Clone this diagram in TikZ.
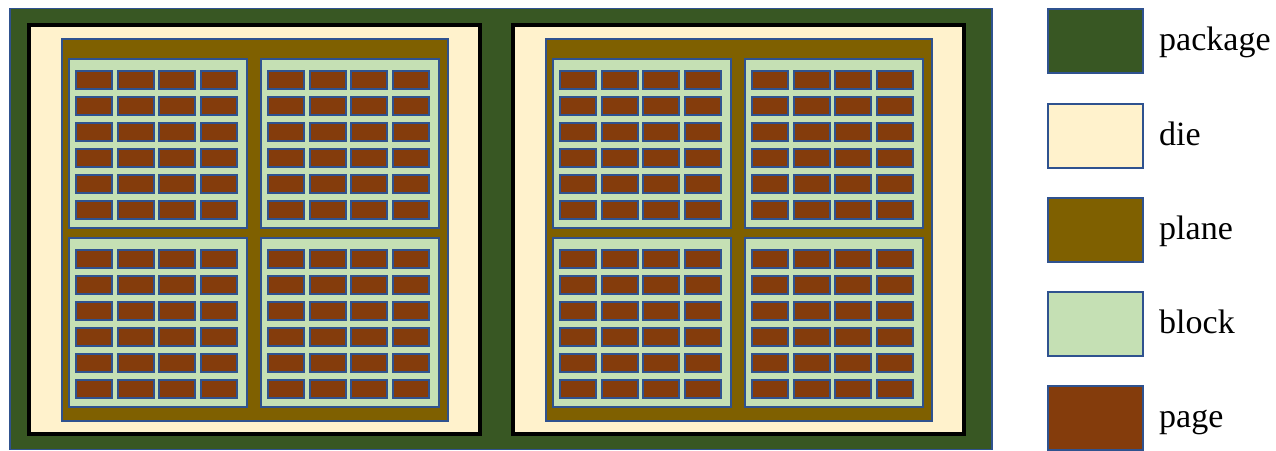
\documentclass[tikz,border=0pt]{standalone}
\usepackage{fontspec}
\setmainfont{Liberation Serif}
\usetikzlibrary{positioning}

\definecolor{edgeblue}{HTML}{2F528F}
\definecolor{pkggreen}{HTML}{385723}
\definecolor{diecream}{HTML}{FFF2CC}
\definecolor{planegold}{HTML}{7F6000}
\definecolor{blockgreen}{HTML}{C5E0B4}
\definecolor{pagebrown}{HTML}{843C0C}

\begin{document}
\begin{tikzpicture}[x=1pt,y=-1pt,
  box/.style  ={draw=edgeblue,line width=2pt,inner sep=0pt,outer sep=0pt},
  pkg/.style  ={box,fill=pkggreen,line width=1.5pt},
  die/.style  ={draw=black,line width=4pt,fill=diecream,inner sep=0pt,
                minimum width=451pt,minimum height=409pt},
  plane/.style={box,fill=planegold,minimum width=386pt,minimum height=382pt},
  blk/.style  ={box,fill=blockgreen,minimum width=178pt,minimum height=169pt},
  pg/.style   ={box,fill=pagebrown,minimum width=36pt,minimum height=18pt},
  key/.style  ={box,minimum width=95pt,minimum height=64pt},
  lbl/.style  ={font=\fontsize{34}{38}\selectfont,inner sep=0pt,
                text height=29pt,text depth=10pt}]
\useasboundingbox (0,0) rectangle (1276,450);

%---------------- package ----------------
\node[pkg,minimum width=982pt,minimum height=441pt] (pkg) at (501,229) {};

%---------------- dies, planes, blocks, pages ----------------
\foreach \d/\dx in {1/254.5,2/738.5} {
  \node[die] (die\d) at (\dx,229.5) {};
  \node[plane] (plane\d) at (\dx+0.5,230) {};
  \foreach \b/\bx/\by in {1/-97/-86.5,2/95/-86.5,3/-97/92.5,4/95/92.5} {
    \node[blk] (blk\d-\b) at ([shift={(\bx,\by)}]plane\d) {};
    \foreach \i in {0,...,3}
      \foreach \j in {0,...,5}
        \node[pg] (pg\d-\b-\i\j) at ([shift={(-64+41.5*\i,-63.5+26*\j)}]blk\d-\b) {};
  }
}

%---------------- legend ----------------
\node[key,fill=pkggreen]   (k1) at (1095.5,41) {};
\node[key,fill=diecream]   (k2) at (1095.5,135.5) {};
\node[key,fill=planegold]  (k3) at (1095.5,229.5) {};
\node[key,fill=blockgreen] (k4) at (1095.5,324) {};
\node[key,fill=pagebrown]  (k5) at (1095.5,418) {};
\node[lbl,right=16pt of k1] (l1) {package};
\node[lbl,right=16pt of k2] (l2) {die};
\node[lbl,right=16pt of k3] (l3) {plane};
\node[lbl,right=16pt of k4] (l4) {block};
\node[lbl,right=16pt of k5] (l5) {page};

\end{tikzpicture}
\end{document}
